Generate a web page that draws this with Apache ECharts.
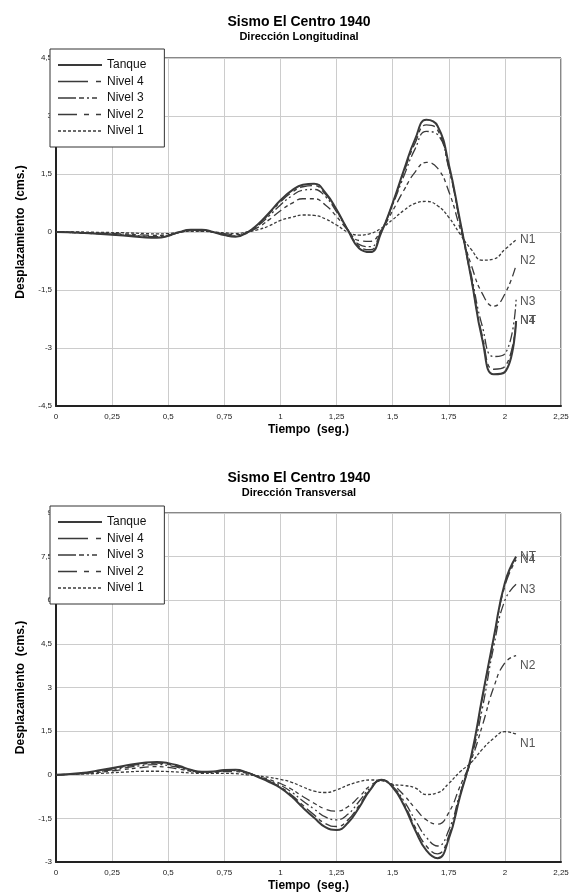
<!DOCTYPE html>
<html><head><meta charset="utf-8">
<script src="https://cdn.jsdelivr.net/npm/echarts@6/dist/echarts.min.js"></script>
<style>html,body{margin:0;padding:0;background:#fff}#c{width:572px;height:896px}</style>
</head><body><div id="c"></div>
<script>
// Shared time samples (seg.)
var time = [0,0.1,0.2,0.3,0.4,0.45,0.5,0.55,0.6,0.65,0.7,0.75,0.8,0.85,0.9,0.95,1.0,1.05,1.1,1.15,1.2,1.25,1.3,1.35,1.4,1.45,1.5,1.55,1.6,1.65,1.7,1.75,1.8,1.85,1.9,1.95,2.0,2.05];

// Dirección Longitudinal (cms.)
var longTanque = [0,-0.02,-0.05,-0.09,-0.14,-0.15,-0.1,0.0,0.06,0.06,0.0,-0.08,-0.12,-0.02,0.2,0.5,0.82,1.07,1.22,1.25,1.02,0.58,0.05,-0.42,-0.52,0.0,0.75,1.6,2.4,2.9,2.74,1.75,0.3,-1.2,-2.8,-3.68,-3.62,-2.3];
var longNivel4 = [0,-0.02,-0.05,-0.08,-0.13,-0.14,-0.1,-0.01,0.05,0.05,0.0,-0.07,-0.11,-0.02,0.18,0.47,0.78,1.02,1.17,1.2,0.98,0.56,0.06,-0.37,-0.46,0.02,0.73,1.55,2.3,2.77,2.64,1.68,0.25,-1.2,-2.7,-3.55,-3.48,-2.3];
var longNivel3 = [0,-0.02,-0.04,-0.07,-0.11,-0.12,-0.09,-0.01,0.04,0.04,0.0,-0.06,-0.1,-0.02,0.16,0.42,0.7,0.93,1.08,1.1,0.92,0.52,0.06,-0.32,-0.38,0.04,0.7,1.45,2.15,2.6,2.52,1.65,0.28,-1.1,-2.45,-3.22,-3.15,-1.75];
var longNivel2 = [0,-0.01,-0.03,-0.05,-0.08,-0.09,-0.07,-0.01,0.03,0.03,0.0,-0.04,-0.07,-0.01,0.12,0.32,0.55,0.74,0.86,0.86,0.7,0.4,0.05,-0.22,-0.24,0.06,0.55,1.08,1.55,1.8,1.65,1.05,0.1,-0.85,-1.6,-1.92,-1.6,-0.85];
var longNivel1 = [0,0.0,-0.01,-0.02,-0.04,-0.05,-0.04,0.0,0.02,0.02,0.0,-0.02,-0.04,0.0,0.06,0.16,0.3,0.38,0.44,0.43,0.34,0.18,0.0,-0.08,-0.04,0.1,0.32,0.56,0.74,0.79,0.68,0.38,-0.05,-0.45,-0.73,-0.7,-0.45,-0.2];

// Dirección Transversal (cms.)
var tranTanque = [0,0.05,0.16,0.3,0.42,0.44,0.4,0.3,0.17,0.1,0.11,0.16,0.17,0.08,-0.08,-0.25,-0.45,-0.75,-1.13,-1.48,-1.8,-1.9,-1.66,-1.13,-0.52,-0.17,-0.43,-1.05,-1.9,-2.6,-2.87,-2.2,-0.75,0.65,2.7,4.7,6.6,7.5];
var tranNivel4 = [0,0.04,0.14,0.27,0.38,0.4,0.36,0.27,0.16,0.1,0.1,0.15,0.16,0.08,-0.07,-0.23,-0.42,-0.7,-1.05,-1.38,-1.68,-1.78,-1.56,-1.06,-0.5,-0.18,-0.42,-1.0,-1.8,-2.45,-2.72,-2.1,-0.7,0.6,2.65,4.65,6.5,7.4];
var tranNivel3 = [0,0.03,0.12,0.23,0.33,0.35,0.32,0.24,0.14,0.09,0.09,0.13,0.14,0.07,-0.06,-0.2,-0.36,-0.6,-0.9,-1.18,-1.45,-1.55,-1.36,-0.92,-0.45,-0.2,-0.4,-0.9,-1.55,-2.15,-2.45,-1.9,-0.65,0.55,2.3,4.4,6.0,6.55];
var tranNivel2 = [0,0.03,0.09,0.18,0.26,0.28,0.25,0.19,0.12,0.08,0.08,0.11,0.11,0.05,-0.05,-0.17,-0.3,-0.5,-0.75,-0.98,-1.18,-1.25,-1.1,-0.76,-0.38,-0.2,-0.35,-0.7,-1.15,-1.55,-1.7,-1.3,-0.4,0.5,1.7,3.0,3.85,4.1];
var tranNivel1 = [0,0.02,0.05,0.09,0.12,0.12,0.11,0.09,0.06,0.05,0.05,0.05,0.04,0.0,-0.04,-0.09,-0.16,-0.26,-0.42,-0.56,-0.61,-0.52,-0.36,-0.24,-0.18,-0.2,-0.33,-0.37,-0.45,-0.68,-0.62,-0.3,0.1,0.42,0.88,1.25,1.48,1.4];

// Labels
var seriesNames = ['Tanque','Nivel 4','Nivel 3','Nivel 2','Nivel 1'];
var endTags = ['NT','N4','N3','N2','N1'];
var xTicks = ['0','0,25','0,5','0,75','1','1,25','1,5','1,75','2','2,25'];
var titles = ['Sismo El Centro 1940','Sismo El Centro 1940'];
var subtitles = ['Dirección Longitudinal','Dirección Transversal'];
var yName = 'Desplazamiento  (cms.)';
var xName = 'Tiempo  (seg.)';

var FONT = '"Liberation Sans", Arial, sans-serif';
var LINE = '#3a3a3a';
var styles = [
  {width:2, type:'solid'},
  {width:1.4, type:[12,4,4,4]},
  {width:1.3, type:[10,3,2,3,2,3]},
  {width:1.3, type:[9,4,4,3,4,4]},
  {width:1.3, type:[3,2]}
];
// dash patterns of the legend samples
var legendDash = ['solid',[30,8,5,20],[18,3,5,3,2,3,5,20],[19,7,5,7,5,20],[3,2]];
// vertical nudges of the end tags (px)
var tagShift = [[0,0,2,-4,0],[0,0,5,10,10]];

function pairs(vals){ return vals.map(function(v,i){ return [time[i], v]; }); }
function fmt(v){ return String(v).replace('.', ','); }

var sets = [
  [longTanque,longNivel4,longNivel3,longNivel2,longNivel1],
  [tranTanque,tranNivel4,tranNivel3,tranNivel2,tranNivel1]
];
var grids = [
  {left:56, right:11, top:58, height:348},
  {left:56, right:11, top:513, height:349}
];
var yRanges = [{min:-4.5,max:4.5,interval:1.5},{min:-3,max:9,interval:1.5}];

var option = {
  backgroundColor:'#fff',
  animation:false,
  textStyle:{fontFamily:FONT},
  title:[],
  grid:[], xAxis:[], yAxis:[], legend:[], series:[]
};

[0,1].forEach(function(k){
  var g = grids[k];
  option.title.push({
    text:titles[k], subtext:subtitles[k], left:294, textAlign:'center',
    top: k===0 ? 10 : 466, itemGap:2,
    textStyle:{fontSize:14, fontWeight:'bold', color:'#000', fontFamily:FONT},
    subtextStyle:{fontSize:11, fontWeight:'bold', color:'#000', fontFamily:FONT}
  });
  option.grid.push({left:g.left, right:g.right, top:g.top, height:g.height, show:true, borderColor:'#111', borderWidth:1, backgroundColor:'#fff'});
  option.xAxis.push({
    type:'value', gridIndex:k, min:0, max:2.25, interval:0.25,
    name:xName, nameLocation:'middle', nameGap:18,
    nameTextStyle:{fontSize:12, fontWeight:'bold', color:'#000', fontFamily:FONT},
    axisLine:{show:true, onZero:false, lineStyle:{color:'#222', width:2}},
    axisTick:{show:false},
    axisLabel:{fontSize:8, color:'#222', margin:7, formatter:function(v){ return xTicks[Math.round(v/0.25)]; }},
    splitLine:{show:true, lineStyle:{color:'#cccccc', width:1}}
  });
  option.yAxis.push({
    type:'value', gridIndex:k, min:yRanges[k].min, max:yRanges[k].max, interval:yRanges[k].interval,
    name:yName, nameLocation:'middle', nameGap:29,
    nameTextStyle:{fontSize:12, fontWeight:'bold', color:'#000', fontFamily:FONT},
    axisLine:{show:true, onZero:false, lineStyle:{color:'#222', width:2}},
    axisTick:{show:false},
    axisLabel:{fontSize:8, color:'#222', margin:4, formatter:function(v){ return fmt(v); }},
    splitLine:{show:true, lineStyle:{color:'#cccccc', width:1}}
  });
  option.legend.push({
    orient:'vertical', left:50, top: k===0 ? 49 : 506,
    data:seriesNames.map(function(n,i){
      return {name:n, lineStyle:{type:legendDash[i], width:styles[i].width, color:LINE}};
    }),
    itemWidth:44, itemHeight:12, itemGap:4.5,
    padding:[10,18,10,7], backgroundColor:'#fff', borderColor:'#333', borderWidth:1,
    textStyle:{fontSize:12, color:'#111', fontFamily:FONT}, itemTextGap:7, z:10,
    itemStyle:{color:'rgba(0,0,0,0)', borderColor:'rgba(0,0,0,0)', borderWidth:0, opacity:0},
    selectedMode:false
  });
  sets[k].forEach(function(vals, i){
    option.series.push({
      name:seriesNames[i], type:'line', xAxisIndex:k, yAxisIndex:k,
      data:pairs(vals), smooth:true, symbol:'none', showSymbol:false,
      lineStyle:{color:LINE, width:styles[i].width, type:styles[i].type},
      itemStyle:{color:LINE},
      endLabel:{show:true, formatter:endTags[i], color:'#555', fontSize:12, fontFamily:FONT, distance:4, offset:[0, tagShift[k][i]]},
      z: 5 - i
    });
  });
});

var chart = echarts.init(document.getElementById('c'), null, {renderer:'canvas'});
chart.setOption(option);
</script>
</body></html>
